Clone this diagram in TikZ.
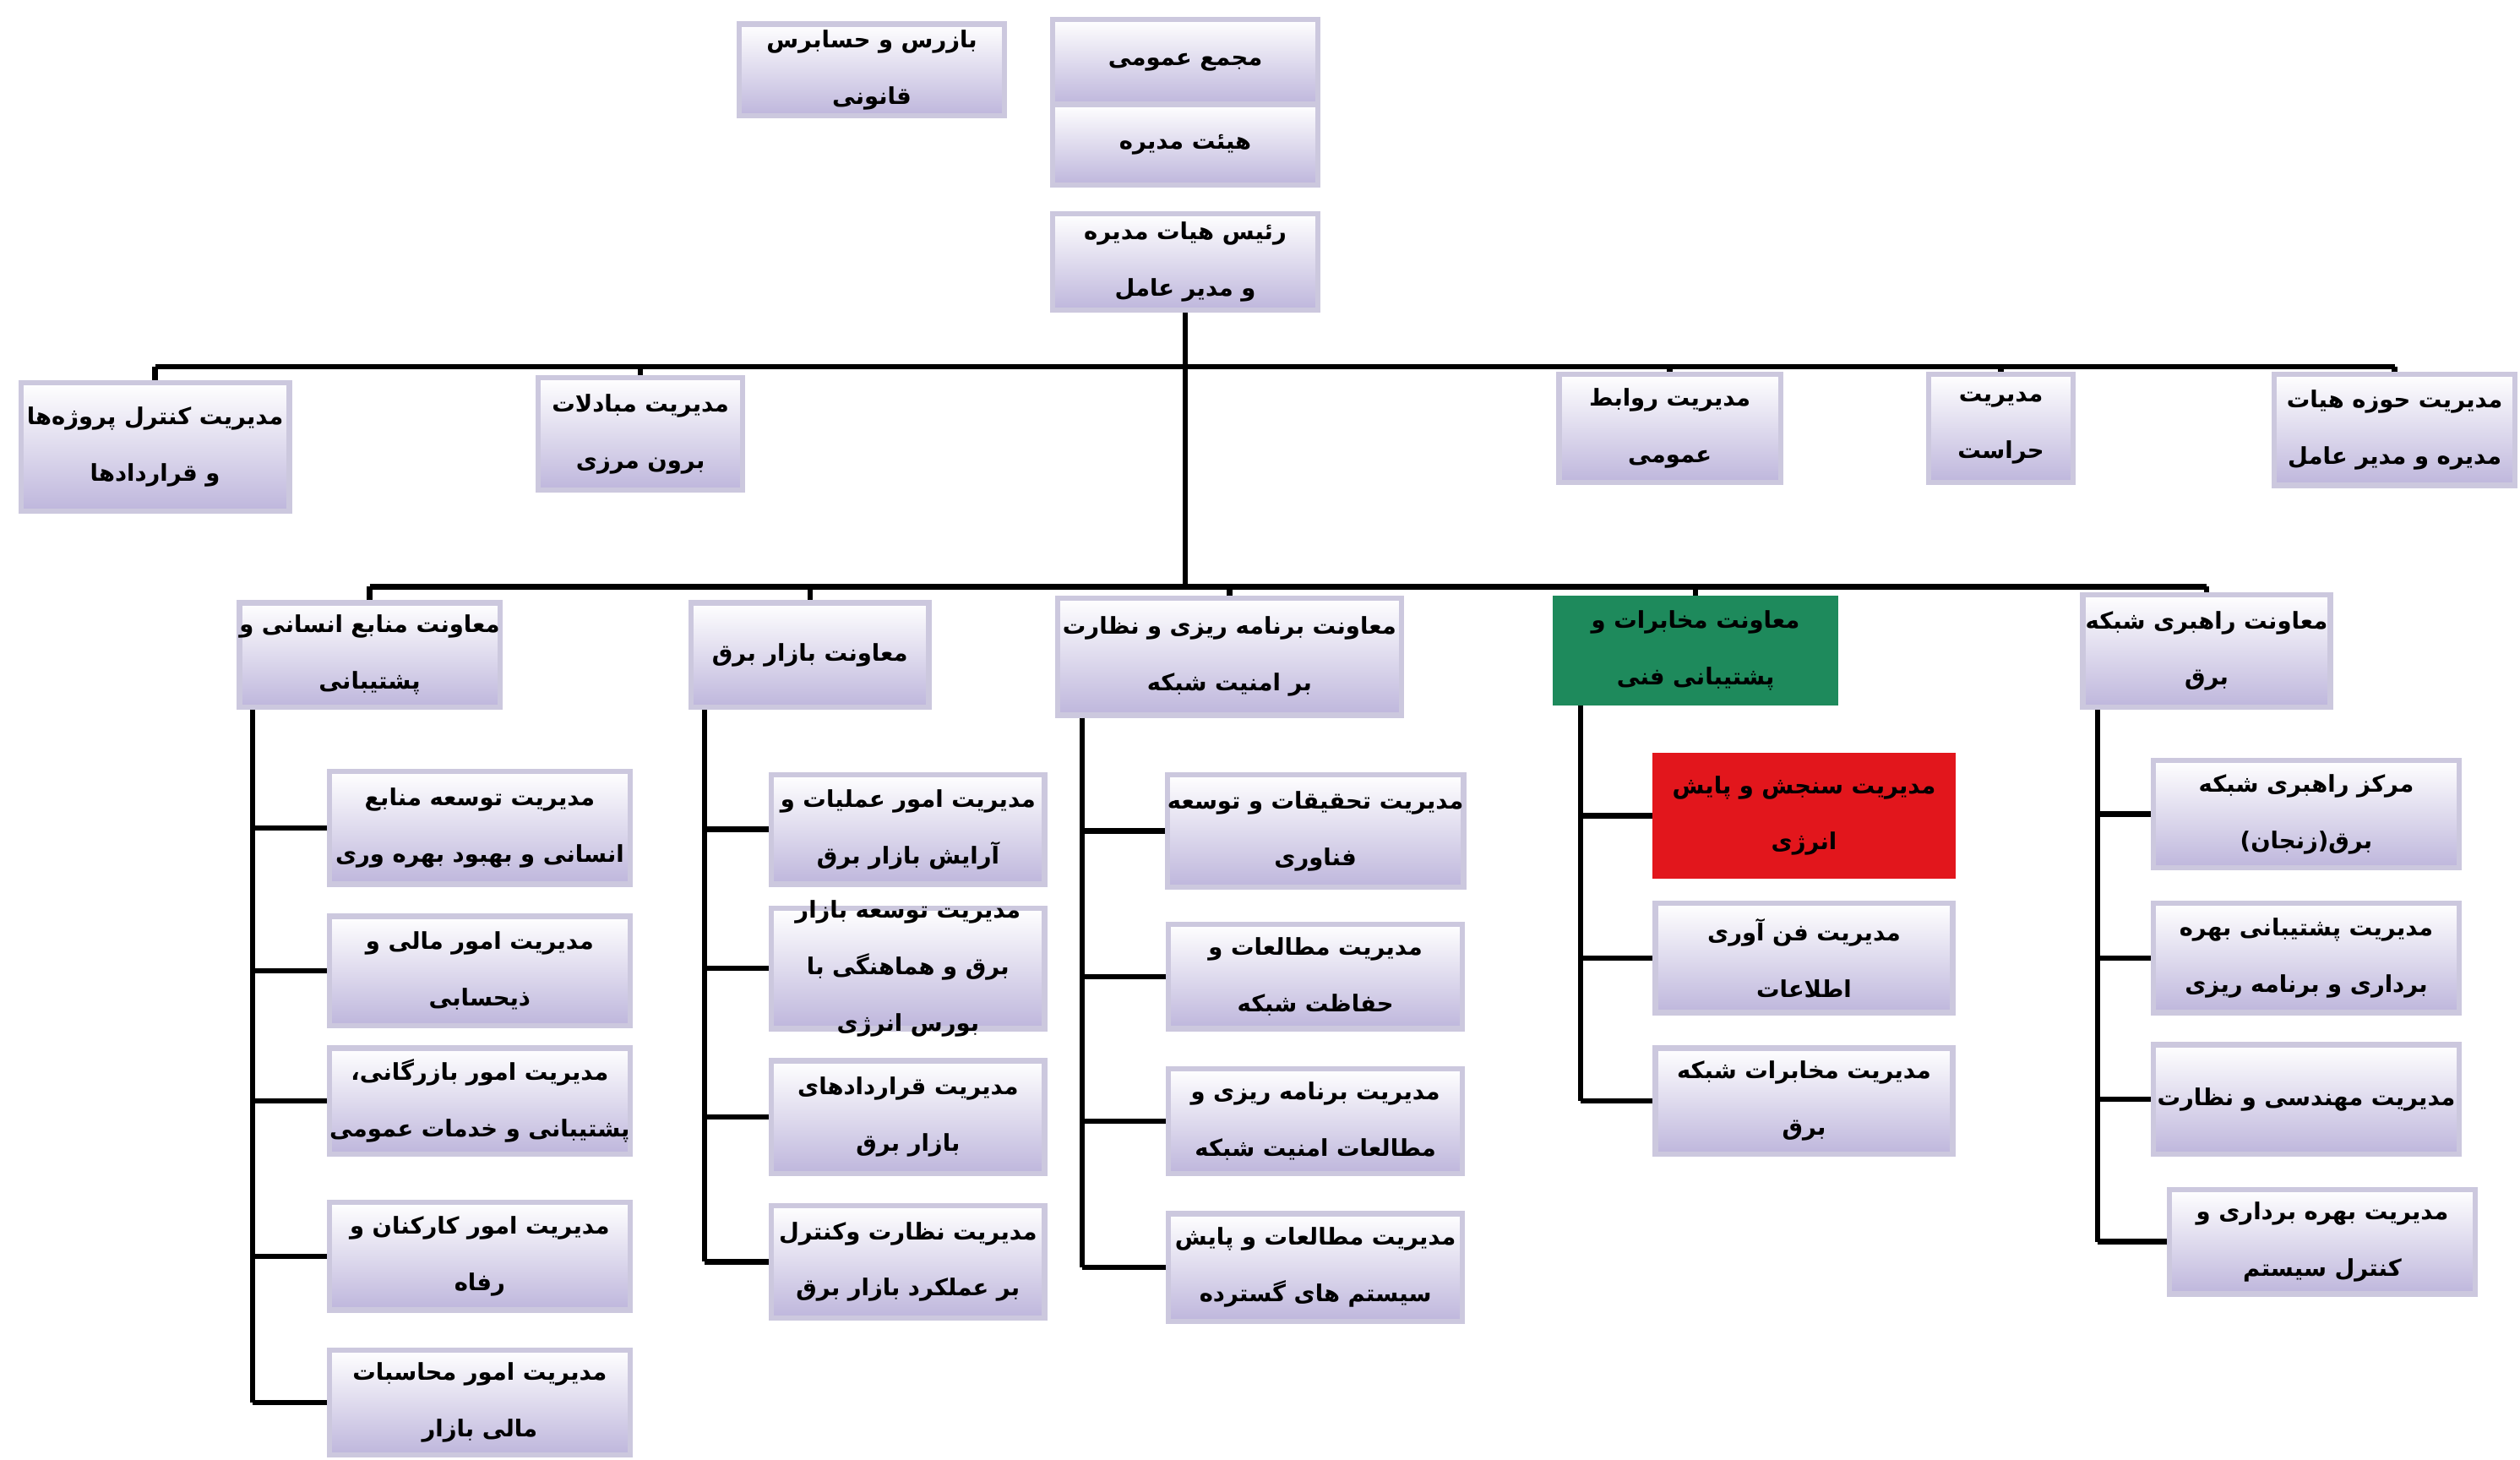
\documentclass[tikz,border=0pt]{standalone}
\usepackage{fontspec}
\newfontfamily\fafont[Script=Arabic]{DejaVu Sans}
\TeXXeTstate=1
\newcommand\faline[1]{\beginR #1\endR}
\definecolor{boxlav}{RGB}{190,182,220}
\definecolor{boxedge}{RGB}{204,200,222}
\definecolor{grn}{RGB}{30,138,92}
\definecolor{rd}{RGB}{226,22,28}
\tikzset{
  box/.style={rectangle, draw=boxedge, line width=1.8pt, top color=white, bottom color=boxlav,
    align=center, inner sep=0pt, font=\fafont\bfseries\fontsize{7.8}{19}\selectfont, text=black},
  txt/.style={align=center, font=\fafont\bfseries\fontsize{7.8}{19}\selectfont, text=black, inner sep=0pt},
  link/.style={line width=1.8pt, black},
}
% #2 name, #3 x1, #4 y1, #5 x2, #6 y2, #7 text
\newcommand\obox[7][]{\node[box,minimum width={(#5-#3)*0.01902cm},minimum height={(#6-#4)*0.01902cm},#1] (#2) at ({(#3+#5)/2},{(#4+#6)/2}) {#7};}
\begin{document}
\begin{tikzpicture}[x=0.01902cm,y=-0.01902cm]
\useasboundingbox[fill=white] (0,0) rectangle (1568,908);
% top
\obox{A}{460}{15}{625}{72}{\faline{بازرس و حسابرس}\\\faline{قانونی}}
\obox{B1}{655}{12}{820}{65}{\faline{مجمع عمومی}}
\obox{B2}{655}{65}{820}{115}{\faline{هیئت مدیره}}
\obox{C}{655}{133}{820}{193}{\faline{رئیس هیات مدیره}\\\faline{و مدیر عامل}}
% row 2
\obox{D1}{13}{238}{180}{318}{\faline{مدیریت کنترل پروژه‌ها}\\\faline{و قراردادها}}
\obox{D2}{335}{235}{462}{305}{\faline{مدیریت مبادلات}\\\faline{برون مرزی}}
\obox{D3}{970}{233}{1108}{300}{\faline{مدیریت روابط}\\\faline{عمومی}}
\obox{D4}{1200}{233}{1290}{300}{\faline{مدیریت}\\\faline{حراست}}
\obox{D5}{1415}{233}{1565}{302}{\faline{مدیریت حوزه هیات}\\\faline{مدیره و مدیر عامل}}
% row 3
\obox{E1}{150}{375}{310}{440}{\faline{معاونت منابع انسانی و}\\\faline{پشتیبانی}}
\obox{E2}{430}{375}{578}{440}{\faline{معاونت بازار برق}}
\obox{E3}{658}{372}{872}{445}{\faline{معاونت برنامه ریزی و نظارت}\\\faline{بر امنیت شبکه}}
\obox[top color=grn,bottom color=grn,draw=grn]{E4}{968}{372}{1142}{437}{\faline{معاونت مخابرات و}\\\faline{پشتیبانی فنی}}
\obox{E5}{1296}{370}{1450}{440}{\faline{معاونت راهبری شبکه}\\\faline{برق}}
% column 1
\obox{F1}{205}{480}{392}{550}{\faline{مدیریت توسعه منابع}\\\faline{انسانی و بهبود بهره وری}}
\obox{F2}{205}{570}{392}{638}{\faline{مدیریت امور مالی و}\\\faline{ذیحسابی}}
\obox{F3}{205}{652}{392}{718}{\faline{مدیریت امور بازرگانی،}\\\faline{پشتیبانی و خدمات عمومی}}
\obox{F4}{205}{748}{392}{815}{\faline{مدیریت امور کارکنان و}\\\faline{رفاه}}
\obox{F5}{205}{840}{392}{905}{\faline{مدیریت امور محاسبات}\\\faline{مالی بازار}}
% column 2
\obox{G1}{480}{482}{650}{550}{\faline{مدیریت امور عملیات و}\\\faline{آرایش بازار برق}}
\obox{G2}{480}{565}{650}{640}{}
\node[txt] (G2t) at (G2.center) {\faline{مدیریت توسعه بازار}\\\faline{برق و هماهنگی با}\\\faline{بورس انرژی}};
\obox{G3}{480}{660}{650}{730}{\faline{مدیریت قراردادهای}\\\faline{بازار برق}}
\obox{G4}{480}{750}{650}{820}{\faline{مدیریت نظارت وکنترل}\\\faline{بر عملکرد بازار برق}}
% column 3
\obox{H1}{727}{482}{910}{552}{\faline{مدیریت تحقیقات و توسعه}\\\faline{فناوری}}
\obox{H2}{727}{575}{910}{640}{\faline{مدیریت مطالعات و}\\\faline{حفاظت شبکه}}
\obox{H3}{727}{665}{910}{730}{\faline{مدیریت برنامه ریزی و}\\\faline{مطالعات امنیت شبکه}}
\obox{H4}{727}{755}{910}{822}{\faline{مدیریت مطالعات و پایش}\\\faline{سیستم های گسترده}}
% column 4
\obox[top color=rd,bottom color=rd,draw=rd]{I1}{1030}{470}{1215}{545}{\faline{مدیریت سنجش و پایش}\\\faline{انرژی}}
\obox{I2}{1030}{562}{1215}{630}{\faline{مدیریت فن آوری}\\\faline{اطلاعات}}
\obox{I3}{1030}{652}{1215}{718}{\faline{مدیریت مخابرات شبکه}\\\faline{برق}}
% column 5
\obox{J1}{1340}{473}{1530}{540}{\faline{مرکز راهبری شبکه}\\\faline{برق(زنجان)}}
\obox{J2}{1340}{562}{1530}{630}{\faline{مدیریت پشتیبانی بهره}\\\faline{برداری و برنامه ریزی}}
\obox{J3}{1340}{650}{1530}{718}{\faline{مدیریت مهندسی و نظارت}}
\obox{J4}{1350}{740}{1540}{805}{\faline{مدیریت بهره برداری و}\\\faline{کنترل سیستم}}
% connectors
\coordinate (t1) at (C.south |- 0,228);
\coordinate (t2) at (C.south |- 0,365);
\draw[link] (C.south) -- (t2);
\draw[link] (D1.north |- t1) -- (D5.north |- t1);
\foreach \n in {D1,D2,D3,D4,D5} \draw[link] (\n.north) -- (\n.north |- t1);
\draw[link] (E1.north |- t2) -- (E5.north |- t2);
\foreach \n in {E1,E2,E3,E4,E5} \draw[link] (\n.north) -- (\n.north |- t2);
\path (E1.south west) ++(10,0) coordinate (c1);
\path (E2.south west) ++(10,0) coordinate (c2);
\path (E3.south west) ++(17,0) coordinate (c3);
\path (E4.south west) ++(17,0) coordinate (c4);
\path (E5.south west) ++(11,0) coordinate (c5);
\draw[link] (c1) -- (c1 |- F5.west);
\foreach \n in {F1,F2,F3,F4,F5} \draw[link] (c1 |- \n.west) -- (\n.west);
\draw[link] (c2) -- (c2 |- G4.west);
\foreach \n in {G1,G2,G3,G4} \draw[link] (c2 |- \n.west) -- (\n.west);
\draw[link] (c3) -- (c3 |- H4.west);
\foreach \n in {H1,H2,H3,H4} \draw[link] (c3 |- \n.west) -- (\n.west);
\draw[link] (c4) -- (c4 |- I3.west);
\foreach \n in {I1,I2,I3} \draw[link] (c4 |- \n.west) -- (\n.west);
\draw[link] (c5) -- (c5 |- J4.west);
\foreach \n in {J1,J2,J3,J4} \draw[link] (c5 |- \n.west) -- (\n.west);
\end{tikzpicture}
\end{document}
